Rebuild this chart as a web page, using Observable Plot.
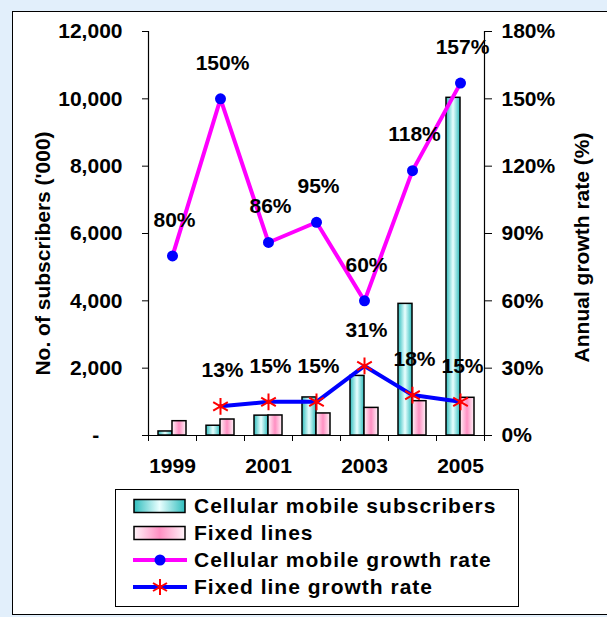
<!DOCTYPE html>
<html><head><meta charset="utf-8">
<script src="https://cdn.jsdelivr.net/npm/d3@7"></script>
<script src="https://cdn.jsdelivr.net/npm/@observablehq/plot@0.6"></script>
<style>
body{margin:0;background:#e2effb;width:607px;height:617px;overflow:hidden;position:relative;font-family:"Liberation Sans",Arial,sans-serif;}
#panel{position:absolute;left:12px;top:11px;width:640px;height:602px;border:1.5px solid #000;background:#fff;}
#chart{position:absolute;left:0;top:0;}
#legend{position:absolute;left:115px;top:489px;width:404px;height:118px;border:1.5px solid #000;box-sizing:border-box;background:#fff;}
.row{position:absolute;left:17px;height:26px;display:flex;align-items:center;font-weight:bold;font-size:21px;letter-spacing:1px;color:#000;white-space:nowrap;}
.row svg{margin-right:7px;flex:none;}
</style>
</head><body>
<div id="panel"></div>
<div id="chart"></div>
<div id="legend"></div>
<script>
const years = [1999, 2000, 2001, 2002, 2003, 2004, 2005];
const cellular = [120, 290, 590, 1130, 1770, 3910, 10030];
const fixedLines = [425, 475, 595, 655, 820, 1020, 1120];
const cellGrowth = [80, 150, 86, 95, 60, 118, 157];
const fixedGrowth = [null, 13, 15, 15, 31, 18, 15];
const leftTicks = [0, 2000, 4000, 6000, 8000, 10000, 12000];
const rightTicks = [0, 30, 60, 90, 120, 150, 180];
const labelYears = [1999, 2001, 2003, 2005];
const seriesNames = ["Cellular mobile subscribers", "Fixed lines", "Cellular mobile growth rate", "Fixed line growth rate"];
const leftTitle = "No. of subscribers ('000)";
const rightTitle = "Annual growth rate (%)";

const yMax = 12000, rMax = 180, k = yMax / rMax;
const rows = years.map((year, i) => ({year, cell: cellular[i], fixed: fixedLines[i], cg: cellGrowth[i], fg: fixedGrowth[i]}));
const frows = rows.filter(d => d.fg != null);
const x0 = years[0] - 0.5, x1 = years[years.length - 1] + 0.5;
const bounds = d3.range(x0, x1 + 0.01, 1);

function defs() {
  const d = d3.create("svg:defs");
  const g1 = d.append("linearGradient").attr("id", "gCell");
  g1.append("stop").attr("offset", "0%").attr("stop-color", "#2fbdbd");
  g1.append("stop").attr("offset", "50%").attr("stop-color", "#eaffff");
  g1.append("stop").attr("offset", "100%").attr("stop-color", "#2fbdbd");
  const g2 = d.append("linearGradient").attr("id", "gFix");
  g2.append("stop").attr("offset", "0%").attr("stop-color", "#fff4f9");
  g2.append("stop").attr("offset", "50%").attr("stop-color", "#ff8fc2");
  g2.append("stop").attr("offset", "100%").attr("stop-color", "#fff4f9");
  return d.node();
}

const chart = Plot.plot({
  width: 607, height: 480,
  marginLeft: 148, marginRight: 123, marginTop: 31, marginBottom: 45,
  style: {fontFamily: "'Liberation Sans', Arial, sans-serif", fontSize: "21px", fontWeight: "bold", color: "#000", background: "transparent"},
  x: {domain: [x0, x1]},
  y: {domain: [0, yMax]},
  marks: [
    defs,
    Plot.rectY(rows, {x1: d => d.year - 0.5, x2: d => d.year + 0.5, y: "cell", fill: "url(#gCell)", stroke: "#000", strokeWidth: 1.5, insetLeft: 10, insetRight: 24}),
    Plot.rectY(rows, {x1: d => d.year - 0.5, x2: d => d.year + 0.5, y: "fixed", fill: "url(#gFix)", stroke: "#000", strokeWidth: 1.5, insetLeft: 24, insetRight: 10}),
    Plot.ruleX([x0], {stroke: "#000", strokeWidth: 1.2}),
    Plot.ruleX([x1], {stroke: "#000", strokeWidth: 1.2}),
    Plot.ruleY([0], {stroke: "#000", strokeWidth: 1.2}),
    Plot.axisY(leftTicks, {anchor: "left", tickSize: 6, tickPadding: 20, label: null, tickFormat: d => d === 0 ? "-\u00a0\u00a0\u00a0\u00a0" : d3.format(",")(d)}),
    Plot.axisY(rightTicks.map(d => d * k), {anchor: "right", tickSize: 7, tickPadding: 10, label: null, tickFormat: d => Math.round(d / k) + "%"}),
    Plot.axisX(bounds, {anchor: "bottom", tickSize: 6, label: null, tickFormat: () => ""}),
    Plot.axisX(labelYears, {anchor: "bottom", tickSize: 0, tickPadding: 23, label: null, tickFormat: d => String(d)}),
    Plot.line(rows, {x: "year", y: d => d.cg * k, stroke: "#ff00ff", strokeWidth: 4}),
    Plot.dot(rows, {x: "year", y: d => d.cg * k, r: 5.5, fill: "#0000ff"}),
    Plot.line(frows, {x: "year", y: d => d.fg * k, stroke: "#0000ff", strokeWidth: 4}),
    Plot.dot(frows, {x: "year", y: d => d.fg * k, r: 8, symbol: "asterisk", stroke: "#ff0000", strokeWidth: 2}),
    Plot.text(rows, {x: "year", y: d => d.cg * k, text: d => d.cg + "%", dy: -36, dx: 2}),
    Plot.text(frows, {x: "year", y: d => d.fg * k, text: d => d.fg + "%", dy: -36, dx: 2}),
    Plot.text([leftTitle], {frameAnchor: "left", textAnchor: "middle", dx: -105, dy: 20, rotate: -90}),
    Plot.text([rightTitle], {frameAnchor: "right", textAnchor: "middle", dx: 98, dy: 14, rotate: -90})
  ]
});
document.getElementById("chart").appendChild(chart);

// legend
const legend = document.getElementById("legend");
const tops = [3, 30, 57, 84];
const swatches = [
  `<svg width="54" height="16"><rect x="1" y="1.5" width="51" height="13" fill="url(#gCell)" stroke="#000" stroke-width="1.5"/></svg>`,
  `<svg width="54" height="16"><rect x="1" y="1.5" width="51" height="13" fill="url(#gFix)" stroke="#000" stroke-width="1.5"/></svg>`,
  `<svg width="54" height="16"><line x1="0" x2="54" y1="8" y2="8" stroke="#ff00ff" stroke-width="4"/><circle cx="27" cy="8" r="5.5" fill="#0000ff"/></svg>`,
  `<svg width="54" height="18"><line x1="0" x2="54" y1="9" y2="9" stroke="#0000ff" stroke-width="4"/><path d="M27,1V17M20,5L34,13M20,13L34,5" stroke="#ff0000" stroke-width="2"/></svg>`
];
seriesNames.forEach((name, i) => {
  const r = document.createElement("div");
  r.className = "row";
  r.style.top = tops[i] + "px";
  r.innerHTML = swatches[i] + `<span>${name}</span>`;
  legend.appendChild(r);
});
</script>
</body></html>
